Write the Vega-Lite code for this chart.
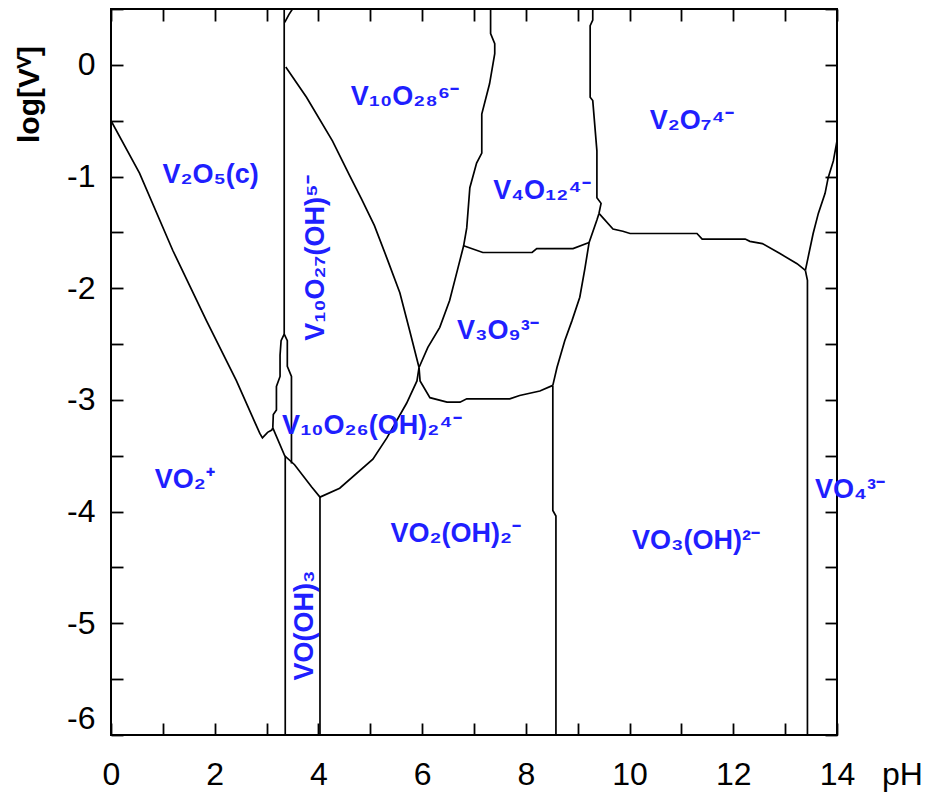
{
  "$schema": "https://vega.github.io/schema/vega-lite/v6.json",
  "width": 726,
  "height": 726,
  "autosize": "none",
  "padding": {"left": 111, "top": 9, "right": 102, "bottom": 58},
  "background": "white",
  "config": {
    "view": {"stroke": "black", "strokeWidth": 2},
    "axis": {
      "domain": false, "grid": false, "ticks": true,
      "tickColor": "black", "tickWidth": 1.8, "tickSize": -12,
      "labelFont": "Liberation Sans", "labelFontSize": 32, "labelColor": "black",
      "titleFont": "Liberation Sans", "titleColor": "black"
    }
  },
  "datasets": {
    "lines": [
      {"seg":"A","i":0,"ph":0,"logv":-0.5},{"seg":"A","i":1,"ph":0.55,"logv":-0.97},{"seg":"A","i":2,"ph":1.19,"logv":-1.66},{"seg":"A","i":3,"ph":1.84,"logv":-2.29},{"seg":"A","i":4,"ph":2.42,"logv":-2.83},{"seg":"A","i":5,"ph":2.87,"logv":-3.30},{"seg":"A","i":6,"ph":2.92,"logv":-3.34},{"seg":"A","i":7,"ph":3.02,"logv":-3.29},{"seg":"A","i":8,"ph":3.10,"logv":-3.27},{"seg":"A","i":9,"ph":3.12,"logv":-3.25},
      {"seg":"B","i":0,"ph":3.34,"logv":0.5},{"seg":"B","i":1,"ph":3.34,"logv":-2.41},
      {"seg":"C","i":0,"ph":3.35,"logv":0.38},{"seg":"C","i":1,"ph":3.43,"logv":0.45},{"seg":"C","i":2,"ph":3.50,"logv":0.5},
      {"seg":"D","i":0,"ph":3.34,"logv":-2.41},{"seg":"D","i":1,"ph":3.28,"logv":-2.47},{"seg":"D","i":2,"ph":3.26,"logv":-2.60},{"seg":"D","i":3,"ph":3.26,"logv":-2.79},{"seg":"D","i":4,"ph":3.19,"logv":-2.88},{"seg":"D","i":5,"ph":3.19,"logv":-3.09},{"seg":"D","i":6,"ph":3.13,"logv":-3.13},{"seg":"D","i":7,"ph":3.12,"logv":-3.25},
      {"seg":"E","i":0,"ph":3.12,"logv":-3.25},{"seg":"E","i":1,"ph":3.35,"logv":-3.50},{"seg":"E","i":2,"ph":3.54,"logv":-3.58},{"seg":"E","i":3,"ph":3.87,"logv":-3.78},{"seg":"E","i":4,"ph":4.03,"logv":-3.87},{"seg":"E","i":5,"ph":4.41,"logv":-3.79},{"seg":"E","i":6,"ph":5.05,"logv":-3.53},{"seg":"E","i":7,"ph":5.32,"logv":-3.34},{"seg":"E","i":8,"ph":5.70,"logv":-3.03},{"seg":"E","i":9,"ph":5.90,"logv":-2.83},{"seg":"E","i":10,"ph":5.94,"logv":-2.71},
      {"seg":"F","i":0,"ph":3.34,"logv":-2.41},{"seg":"F","i":1,"ph":3.40,"logv":-2.47},{"seg":"F","i":2,"ph":3.40,"logv":-2.70},{"seg":"F","i":3,"ph":3.48,"logv":-2.79},{"seg":"F","i":4,"ph":3.48,"logv":-3.57},
      {"seg":"G","i":0,"ph":3.36,"logv":-3.50},{"seg":"G","i":1,"ph":3.36,"logv":-6},
      {"seg":"H","i":0,"ph":4.03,"logv":-3.87},{"seg":"H","i":1,"ph":4.03,"logv":-6},
      {"seg":"I","i":0,"ph":3.37,"logv":-0.02},{"seg":"I","i":1,"ph":3.77,"logv":-0.29},{"seg":"I","i":2,"ph":4.27,"logv":-0.68},{"seg":"I","i":3,"ph":4.60,"logv":-0.99},{"seg":"I","i":4,"ph":4.83,"logv":-1.20},{"seg":"I","i":5,"ph":5.08,"logv":-1.44},{"seg":"I","i":6,"ph":5.32,"logv":-1.73},{"seg":"I","i":7,"ph":5.57,"logv":-2.04},{"seg":"I","i":8,"ph":5.76,"logv":-2.38},{"seg":"I","i":9,"ph":5.94,"logv":-2.71},
      {"seg":"J","i":0,"ph":7.32,"logv":0.5},{"seg":"J","i":1,"ph":7.32,"logv":0.28},{"seg":"J","i":2,"ph":7.40,"logv":0.19},{"seg":"J","i":3,"ph":7.40,"logv":0.10},{"seg":"J","i":4,"ph":7.30,"logv":-0.17},{"seg":"J","i":5,"ph":7.15,"logv":-0.44},{"seg":"J","i":6,"ph":7.15,"logv":-0.79},{"seg":"J","i":7,"ph":7.05,"logv":-0.88},{"seg":"J","i":8,"ph":6.92,"logv":-1.10},{"seg":"J","i":9,"ph":6.86,"logv":-1.46},{"seg":"J","i":10,"ph":6.80,"logv":-1.62},{"seg":"J","i":11,"ph":6.69,"logv":-1.82},{"seg":"J","i":12,"ph":6.53,"logv":-2.11},{"seg":"J","i":13,"ph":6.34,"logv":-2.35},{"seg":"J","i":14,"ph":6.11,"logv":-2.53},{"seg":"J","i":15,"ph":5.94,"logv":-2.71},
      {"seg":"K","i":0,"ph":6.80,"logv":-1.62},{"seg":"K","i":1,"ph":7.17,"logv":-1.68},{"seg":"K","i":2,"ph":8.12,"logv":-1.68},{"seg":"K","i":3,"ph":8.21,"logv":-1.645},{"seg":"K","i":4,"ph":8.91,"logv":-1.645},{"seg":"K","i":5,"ph":9.22,"logv":-1.59},
      {"seg":"L","i":0,"ph":9.29,"logv":0.5},{"seg":"L","i":1,"ph":9.29,"logv":0.40},{"seg":"L","i":2,"ph":9.24,"logv":0.35},{"seg":"L","i":3,"ph":9.24,"logv":-0.29},{"seg":"L","i":4,"ph":9.29,"logv":-0.32},{"seg":"L","i":5,"ph":9.37,"logv":-0.77},{"seg":"L","i":6,"ph":9.37,"logv":-1.19},{"seg":"L","i":7,"ph":9.45,"logv":-1.24},{"seg":"L","i":8,"ph":9.41,"logv":-1.33},
      {"seg":"M","i":0,"ph":9.41,"logv":-1.33},{"seg":"M","i":1,"ph":9.37,"logv":-1.39},{"seg":"M","i":2,"ph":9.22,"logv":-1.59},{"seg":"M","i":3,"ph":9.14,"logv":-1.82},{"seg":"M","i":4,"ph":9.04,"logv":-2.08},{"seg":"M","i":5,"ph":8.89,"logv":-2.29},{"seg":"M","i":6,"ph":8.75,"logv":-2.47},{"seg":"M","i":7,"ph":8.60,"logv":-2.71},{"seg":"M","i":8,"ph":8.52,"logv":-2.87},
      {"seg":"N","i":0,"ph":8.52,"logv":-2.87},{"seg":"N","i":1,"ph":8.52,"logv":-3.99},{"seg":"N","i":2,"ph":8.58,"logv":-4.04},{"seg":"N","i":3,"ph":8.58,"logv":-6},
      {"seg":"O","i":0,"ph":5.94,"logv":-2.71},{"seg":"O","i":1,"ph":5.96,"logv":-2.83},{"seg":"O","i":2,"ph":6.15,"logv":-2.98},{"seg":"O","i":3,"ph":6.48,"logv":-3.02},{"seg":"O","i":4,"ph":6.73,"logv":-3.02},{"seg":"O","i":5,"ph":6.86,"logv":-2.99},{"seg":"O","i":6,"ph":7.69,"logv":-2.99},{"seg":"O","i":7,"ph":7.88,"logv":-2.96},{"seg":"O","i":8,"ph":8.27,"logv":-2.92},{"seg":"O","i":9,"ph":8.52,"logv":-2.87},
      {"seg":"P","i":0,"ph":9.41,"logv":-1.33},{"seg":"P","i":1,"ph":9.68,"logv":-1.47},{"seg":"P","i":2,"ph":9.87,"logv":-1.49},{"seg":"P","i":3,"ph":10.01,"logv":-1.51},{"seg":"P","i":4,"ph":11.30,"logv":-1.51},{"seg":"P","i":5,"ph":11.40,"logv":-1.56},{"seg":"P","i":6,"ph":12.23,"logv":-1.56},{"seg":"P","i":7,"ph":12.32,"logv":-1.58},{"seg":"P","i":8,"ph":12.56,"logv":-1.60},{"seg":"P","i":9,"ph":12.90,"logv":-1.69},{"seg":"P","i":10,"ph":13.23,"logv":-1.78},{"seg":"P","i":11,"ph":13.39,"logv":-1.84},
      {"seg":"Q","i":0,"ph":13.39,"logv":-1.84},{"seg":"Q","i":1,"ph":13.44,"logv":-1.73},{"seg":"Q","i":2,"ph":13.54,"logv":-1.51},{"seg":"Q","i":3,"ph":13.64,"logv":-1.33},{"seg":"Q","i":4,"ph":13.77,"logv":-1.15},{"seg":"Q","i":5,"ph":13.83,"logv":-1.01},{"seg":"Q","i":6,"ph":13.93,"logv":-0.86},{"seg":"Q","i":7,"ph":14.0,"logv":-0.68},
      {"seg":"R","i":0,"ph":13.39,"logv":-1.84},{"seg":"R","i":1,"ph":13.43,"logv":-1.93},{"seg":"R","i":2,"ph":13.43,"logv":-6}
    ],
    "labels": [
      {"label":"V₂O₅(c)","ph":1.92,"logv":-0.99},
      {"label":"V₁₀O₂₈⁶⁻","ph":5.67,"logv":-0.29},
      {"label":"V₄O₁₂⁴⁻","ph":8.31,"logv":-1.13},
      {"label":"V₂O₇⁴⁻","ph":11.2,"logv":-0.5},
      {"label":"V₃O₉³⁻","ph":7.46,"logv":-2.38},
      {"label":"VO₂⁺","ph":1.42,"logv":-3.72},
      {"label":"V₁₀O₂₆(OH)₂⁴⁻","ph":5.03,"logv":-3.23},
      {"label":"VO₂(OH)₂⁻","ph":6.65,"logv":-4.2},
      {"label":"VO₃(OH)²⁻","ph":11.28,"logv":-4.26},
      {"label":"VO₄³⁻","ph":14.25,"logv":-3.81}
    ],
    "vlabels": [
      {"label":"V₁₀O₂₇(OH)⁵⁻","ph":3.95,"logv":-1.73},
      {"label":"VO(OH)₃","ph":3.74,"logv":-5.02}
    ]
  },
  "layer": [
    {
      "data": {"name": "lines"},
      "mark": {"type": "line", "color": "black", "strokeWidth": 1.7, "clip": true},
      "encoding": {
        "x": {"field": "ph", "type": "quantitative",
          "scale": {"domain": [0, 14], "nice": false, "zero": false},
          "axis": {"orient": "bottom", "values": [0,1,2,3,4,5,6,7,8,9,10,11,12,13,14],
            "labelExpr": "datum.value % 2 === 0 ? toString(datum.value) : ''",
            "labelPadding": 36, "labelFlush": false,
            "title": "pH", "titleX": 791, "titleY": 49, "titleAlign": "center", "titleBaseline": "alphabetic",
            "titleFontSize": 32, "titleFontWeight": "normal"}},
        "y": {"field": "logv", "type": "quantitative",
          "scale": {"domain": [-6, 0.5], "nice": false, "zero": false},
          "axis": {"orient": "left", "values": [-6,-5.5,-5,-4.5,-4,-3.5,-3,-2.5,-2,-1.5,-1,-0.5,0,0.5],
            "labelExpr": "datum.value % 1 === 0 ? toString(datum.value) : ''",
            "labelBaseline": {"condition": {"test": "datum.value === -6", "value": "bottom"}, "value": "middle"},
            "labelPadding": 28, "labelFlush": false,
            "title": "log[Vⱽ]", "titleX": -73, "titleY": 85, "titleAngle": 270, "titleAlign": "center", "titleBaseline": "alphabetic",
            "titleFontSize": 30, "titleFontWeight": "bold"}},
        "detail": {"field": "seg"},
        "order": {"field": "i"}
      }
    },
    {
      "data": {"name": "labels"},
      "mark": {"type": "text", "font": "Liberation Sans", "fontWeight": "bold", "fontSize": 27, "color": "#1f1fff", "align": "center", "baseline": "middle"},
      "encoding": {
        "x": {"field": "ph", "type": "quantitative", "scale": {"domain": [0, 14], "nice": false, "zero": false},
          "axis": {"orient": "top", "labels": false, "title": null, "values": [0,1,2,3,4,5,6,7,8,9,10,11,12,13,14]}},
        "y": {"field": "logv", "type": "quantitative", "scale": {"domain": [-6, 0.5], "nice": false, "zero": false},
          "axis": {"orient": "right", "labels": false, "title": null, "values": [-6,-5.5,-5,-4.5,-4,-3.5,-3,-2.5,-2,-1.5,-1,-0.5,0,0.5]}},
        "text": {"field": "label"}
      }
    },
    {
      "data": {"name": "vlabels"},
      "mark": {"type": "text", "font": "Liberation Sans", "fontWeight": "bold", "fontSize": 27, "color": "#1f1fff", "align": "center", "baseline": "middle", "angle": 270},
      "encoding": {
        "x": {"field": "ph", "type": "quantitative", "scale": {"domain": [0, 14], "nice": false, "zero": false}, "axis": null},
        "y": {"field": "logv", "type": "quantitative", "scale": {"domain": [-6, 0.5], "nice": false, "zero": false}, "axis": null},
        "text": {"field": "label"}
      }
    }
  ],
  "resolve": {"axis": {"x": "independent", "y": "independent"}}
}
